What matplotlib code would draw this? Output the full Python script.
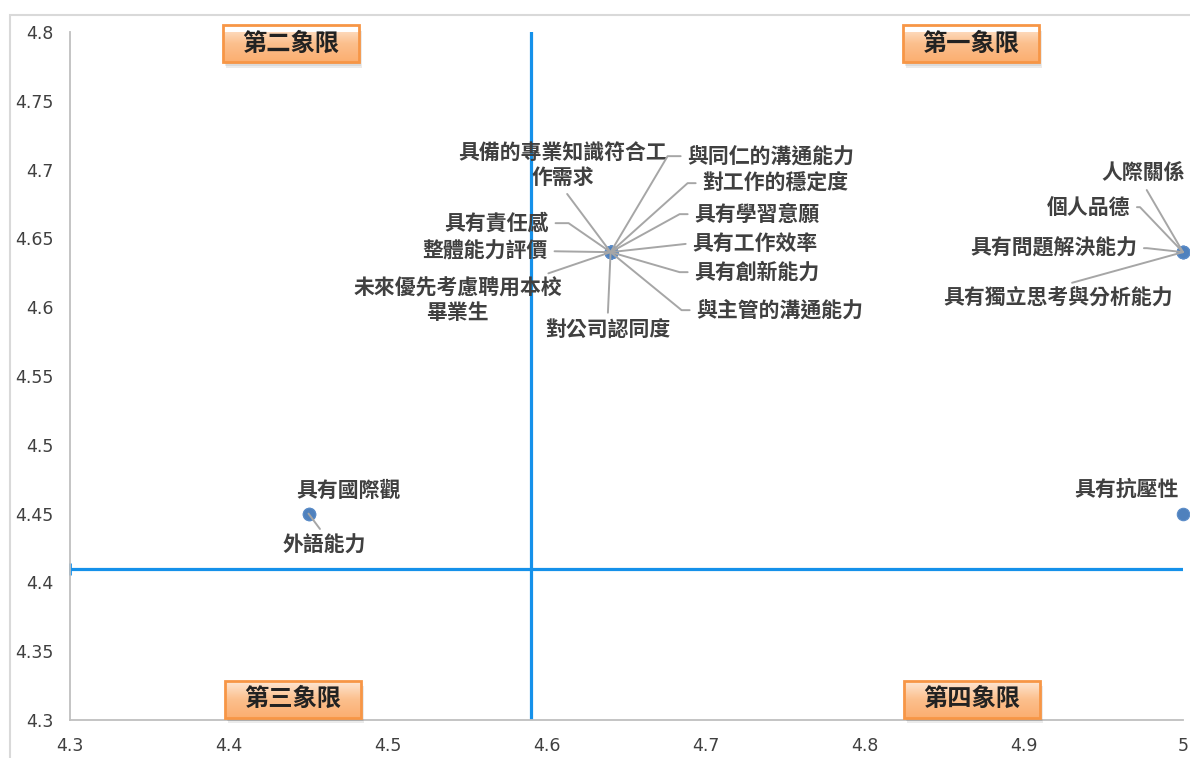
import math
import matplotlib
matplotlib.use('Agg')
import matplotlib.pyplot as plt
import numpy as np
from matplotlib.colors import LinearSegmentedColormap
from matplotlib.patches import FancyBboxPatch, Rectangle

plt.rcParams['font.family'] = ['Noto Sans CJK TC', 'DejaVu Sans']

# data
NAMES = ['具備的專業知識符合工\n作需求', '與同仁的溝通能力', '對工作的穩定度', '具有學習意願',
         '具有工作效率', '具有創新能力', '與主管的溝通能力', '對公司認同度',
         '未來優先考慮聘用本校\n畢業生', '整體能力評價', '具有責任感',
         '人際關係', '個人品德', '具有問題解決能力', '具有獨立思考與分析能力',
         '具有抗壓性', '具有國際觀', '外語能力']
X_VALS = [4.64, 4.64, 4.64, 4.64, 4.64, 4.64, 4.64, 4.64, 4.64, 4.64, 4.64,
          5.0, 5.0, 5.0, 5.0, 5.0, 4.45, 4.45]
Y_VALS = [4.64, 4.64, 4.64, 4.64, 4.64, 4.64, 4.64, 4.64, 4.64, 4.64, 4.64,
          4.64, 4.64, 4.64, 4.64, 4.45, 4.45, 4.45]
X_MEAN = 4.59
Y_MEAN = 4.41
X_TICKS = [4.3, 4.4, 4.5, 4.6, 4.7, 4.8, 4.9, 5.0]
Y_TICKS = [4.3, 4.35, 4.4, 4.45, 4.5, 4.55, 4.6, 4.65, 4.7, 4.75, 4.8]
QUADRANTS = ['第一象限', '第二象限', '第三象限', '第四象限']

# label layout: offset in pixels, alignment, leader start (relpos), elbow stub
LABEL_POS = [
    (-48, 87, 'center', (0.5, 0), 0),
    (77, 96, 'left', (0, 0.5), 20),
    (92, 69, 'left', (0, 0.5), 15),
    (84, 38, 'left', (0, 0.5), 15),
    (82, 9, 'left', (0, 0.5), 0),
    (84, -20, 'left', (0, 0.5), 15),
    (86, -58, 'left', (0, 0.5), 15),
    (-3, -78, 'center', (0.5, 1), 0),
    (-153, -48, 'center', (1, 0.3), 12),
    (-63, 1, 'right', (1, 0.5), 0),
    (-62, 29, 'right', (1, 0.5), 20),
    (-40, 79, 'center', (0.5, 0), 0),
    (-53, 45, 'right', (1, 0.5), 10),
    (-46, 4, 'right', (1, 0.5), 10),
    (-125, -45, 'center', (0.5, 1), 0),
    (-56, 24, 'center', None, 0),
    (40, 23, 'center', None, 0),
    (16, -32, 'center', (0.5, 1), 0),
]
QUAD_POS = [(0.8095, 0.9826), (0.1986, 0.9826), (0.2004, 0.0305), (0.8104, 0.0305)]

BLUE = '#1591ea'
GRAD = LinearSegmentedColormap.from_list('quad', ['#fee9d8', '#fcc08e', '#fbae70'])


def quadrant_box(ax, cx, cy, text):
    w, h = 136 / 1113, 37 / 688
    x0, y0 = cx - w / 2, cy - h / 2
    for i in range(3):
        ax.add_patch(FancyBboxPatch((x0 + 0.001 * (i + 1), y0 - 0.0025 * (i + 1)), w, h,
                                    boxstyle='square,pad=0', transform=ax.transAxes,
                                    facecolor='#606060', alpha=0.12, edgecolor='none',
                                    zorder=5, clip_on=False))
    box = FancyBboxPatch((x0, y0), w, h, boxstyle='square,pad=0', transform=ax.transAxes,
                         facecolor='white', edgecolor='none', zorder=6, clip_on=False)
    ax.add_patch(box)
    grad = np.linspace(0, 1, 60).reshape(-1, 1)
    im = ax.imshow(grad, extent=(x0, x0 + w, y0, y0 + h), transform=ax.transAxes,
                   cmap=GRAD, aspect='auto', origin='upper', zorder=6)
    im.set_clip_path(box)
    ax.add_patch(FancyBboxPatch((x0, y0), w, h, boxstyle='square,pad=0',
                                transform=ax.transAxes, facecolor='none',
                                edgecolor='#f79646', lw=2, zorder=7, clip_on=False))
    ax.text(cx, cy, text, transform=ax.transAxes, ha='center', va='center',
            fontsize=17.5, fontweight='bold', color='#222222', zorder=8)


def main():
    fig = plt.figure(figsize=(11.9, 7.58), dpi=100)
    ax = fig.add_axes([70 / 1190, 38 / 758, 1113 / 1190, 688 / 758])

    fig.add_artist(Rectangle((10 / 1190, -0.1), 1.2, (758 - 15) / 758 + 0.1,
                             transform=fig.transFigure, fill=False,
                             edgecolor='#d9d9d9', lw=1.5))

    ax.axvline(X_MEAN, color=BLUE, lw=2.3, zorder=2)
    ax.axhline(Y_MEAN, color=BLUE, lw=2.3, zorder=2)
    ax.plot([X_TICKS[0]], [Y_MEAN], marker='|', ms=8, mew=2, color=BLUE, clip_on=False, zorder=2)

    ax.scatter(X_VALS, Y_VALS, s=80, color='#4f81bd', edgecolor='#5b8cc8', lw=0.8,
               zorder=4, clip_on=False)

    for name, x, y, (dx, dy, ha, rel, stub) in zip(NAMES, X_VALS, Y_VALS, LABEL_POS):
        props = None
        if rel is not None:
            if stub:
                ex = dx - stub if ha == 'left' else dx + stub
                ang = math.degrees(math.atan2(dy, ex))
                style = f'angle,angleA=0,angleB={ang:.2f},rad=0'
            else:
                style = 'arc3'
            props = dict(arrowstyle='-', color='#a6a6a6', lw=1.4, relpos=rel,
                         connectionstyle=style, shrinkA=3, shrinkB=0)
        ax.annotate(name, (x, y), xytext=(dx, dy), textcoords='offset pixels',
                    ha=ha, va='center', multialignment='center', fontsize=15,
                    fontweight='bold', color='#404040', arrowprops=props,
                    annotation_clip=False, zorder=5)

    for text, (cx, cy) in zip(QUADRANTS, QUAD_POS):
        quadrant_box(ax, cx, cy, text)

    ax.set_xlim(4.3, 5.0)
    ax.set_ylim(4.3, 4.8)
    ax.set_aspect('auto')
    ax.set_xticks(X_TICKS)
    ax.set_xticklabels([f'{v:g}' for v in X_TICKS])
    ax.set_yticks(Y_TICKS)
    ax.set_yticklabels([f'{v:g}' for v in Y_TICKS])
    ax.tick_params(length=0, labelsize=12.5, labelcolor='#404040', pad=12,
                   labelfontfamily='DejaVu Sans')
    for side in ['top', 'right']:
        ax.spines[side].set_visible(False)
    for side in ['left', 'bottom']:
        ax.spines[side].set_color('#bfbfbf')
        ax.spines[side].set_linewidth(1.3)

    fig.savefig('out.png', dpi=100)
    plt.close(fig)


if __name__ == '__main__':
    main()
